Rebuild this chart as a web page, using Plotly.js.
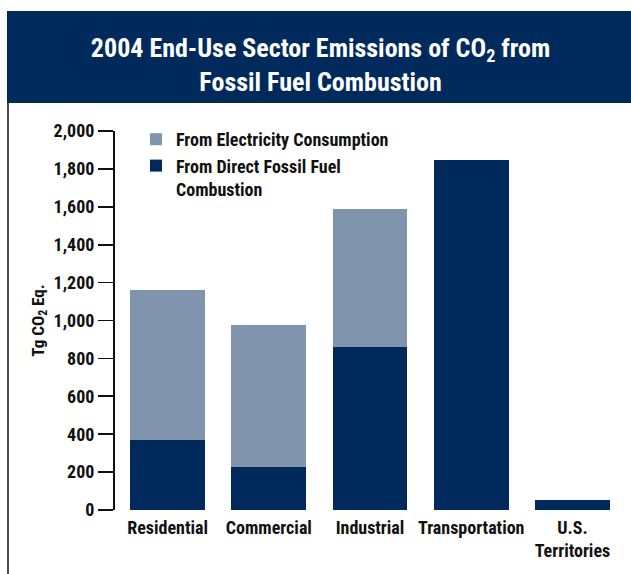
<!DOCTYPE html>
<html>
<head>
<meta charset="utf-8">
<script src="https://cdn.plot.ly/plotly-3.0.1.min.js"></script>
<style>
html,body{margin:0;padding:0;background:#fff;}
#chart{width:631px;height:574px;}
#chart text{font-stretch:condensed;}
</style>
</head>
<body>
<div id="chart"></div>
<script>
const categories = ["Residential", "Commercial", "Industrial", "Transportation", "U.S.<br>Territories"];
const directFossil = [369, 227, 860, 1847, 53];
const electricity = [792, 749, 728, 0, 0];
const yTickVals = [0, 200, 400, 600, 800, 1000, 1200, 1400, 1600, 1800, 2000];

const FONT = "'Roboto Condensed', Roboto, sans-serif";
const DARK = "#002a5c";
const LIGHT = "#8094ad";

const traces = [
  {type: "bar", x: categories, y: directFossil, name: "From Direct Fossil Fuel<br>Combustion",
   marker: {color: DARK}, hoverinfo: "skip"},
  {type: "bar", x: categories, y: electricity, name: "From Electricity Consumption",
   marker: {color: LIGHT}, hoverinfo: "skip"}
];

const px = v => (v - 115) / 508;
const py = v => (510 - v) / 379;

const layout = {
  width: 631, height: 574,
  margin: {l: 115, r: 8, t: 131, b: 64},
  paper_bgcolor: "#fff", plot_bgcolor: "#fff",
  barmode: "stack", bargap: 0.26,
  font: {family: FONT, weight: "bold", color: "#111", size: 18},
  title: {
    text: "2004 End-Use Sector Emissions of CO<sub>2</sub> from<br>Fossil Fuel Combustion",
    font: {family: FONT, weight: "bold", color: "#fff", size: 26},
    xref: "container", yref: "container", x: 0.508, y: 1 - 57/574, xanchor: "center", yanchor: "middle"
  },
  xaxis: {range: [-0.52, 4.5], showline: false, ticks: "", showgrid: false, zeroline: false, tickangle: 0,
          ticklabelstandoff: 5,
          tickfont: {family: FONT, weight: "bold", size: 18, color: "#111"}, fixedrange: true},
  yaxis: {range: [0, 2000], tickvals: yTickVals, tickformat: ",d", showline: true, linecolor: "#111",
          linewidth: 2, ticks: "outside", ticklen: 15, tickwidth: 1.6, tickcolor: "#111",
          showgrid: false, zeroline: false,
          tickfont: {family: FONT, weight: "bold", size: 18, color: "#111"},
          title: {text: "Tg CO<sub>2</sub> Eq.", font: {family: FONT, weight: "bold", size: 17, color: "#111"}, standoff: 5},
          fixedrange: true},
  legend: {x: px(136), y: py(121), xanchor: "left", yanchor: "top", traceorder: "reversed", valign: "top",
           bgcolor: "rgba(0,0,0,0)", font: {family: FONT, weight: "bold", size: 18, color: "#111"}},
  shapes: [
    {type: "rect", xref: "paper", yref: "paper", x0: px(7), x1: px(640), y0: py(11), y1: py(103),
     fillcolor: DARK, line: {width: 0}, layer: "below"},
    {type: "line", xref: "paper", yref: "paper", x0: px(8), x1: px(8), y0: py(103), y1: py(580),
     line: {color: "#111", width: 1.5}}
  ]
};

Plotly.newPlot("chart", traces, layout, {displayModeBar: false, staticPlot: true});
</script>
</body>
</html>
